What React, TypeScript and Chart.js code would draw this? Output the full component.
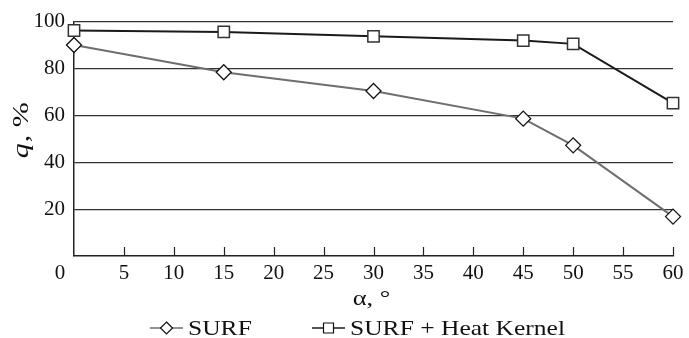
import React, { useEffect, useRef } from "react";
import { Chart, registerables } from "chart.js";

Chart.register(...registerables);

// ---- data ----
const angles = [0, 15, 30, 45, 50, 60];
const surfValues = [90.0, 78.4, 70.4, 58.6, 47.2, 16.8];
const surfHeatValues = [96.2, 95.6, 93.7, 91.9, 90.5, 65.2];
const seriesNames = ["SURF", "SURF + Heat Kernel"];
const xTickValues = [5, 10, 15, 20, 25, 30, 35, 40, 45, 50, 55, 60];
const yTickValues = [20, 40, 60, 80, 100];
const xOriginLabel = "0";
const xTitle = "α, °";
const yTitleVar = "q";
const yTitleRest = ", %";

const FONT = "'Liberation Serif', 'Times New Roman', serif";
const TEXT = "#111";
const surfColor = "#6e6e6e";
const heatColor = "#1a1a1a";

function stretchText(
  ctx: CanvasRenderingContext2D,
  text: string,
  x: number,
  y: number,
  sx: number,
  align: "left" | "center"
) {
  const w = ctx.measureText(text).width * sx;
  const left = align === "center" ? x - w / 2 : x;
  ctx.save();
  ctx.translate(left, y);
  ctx.scale(sx, 1);
  ctx.textAlign = "left";
  ctx.fillText(text, 0, 0);
  ctx.restore();
  return w;
}

const decorPlugin = {
  id: "decor",
  afterDraw(chart: any) {
    const ctx: CanvasRenderingContext2D = chart.ctx;
    const xs = chart.scales.x;
    const ca = chart.chartArea;
    ctx.save();

    // inward tick marks on x axis
    ctx.strokeStyle = "#222";
    ctx.lineWidth = 1.2;
    for (const t of xTickValues) {
      const px = Math.round(xs.getPixelForValue(t)) + 0.5;
      ctx.beginPath();
      ctx.moveTo(px, ca.bottom);
      ctx.lineTo(px, ca.bottom - 9);
      ctx.stroke();
    }

    // origin label
    ctx.fillStyle = TEXT;
    ctx.font = `21px ${FONT}`;
    ctx.textAlign = "center";
    ctx.textBaseline = "middle";
    ctx.fillText(xOriginLabel, ca.left - 14, xs.top + 5 + (21 * 1.2) / 2);

    // x axis title
    ctx.font = `22px ${FONT}`;
    ctx.textBaseline = "alphabetic";
    stretchText(ctx, xTitle, (ca.left + ca.right) / 2 - 2, ca.bottom + 49, 1.2, "center");

    // y axis title (rotated, italic variable)
    ctx.save();
    ctx.translate(28, (ca.top + ca.bottom) / 2 - 8);
    ctx.rotate(-Math.PI / 2);
    ctx.textBaseline = "alphabetic";
    const sy = 1.25;
    ctx.font = `italic 24px ${FONT}`;
    const w1 = ctx.measureText(yTitleVar).width * sy;
    ctx.font = `24px ${FONT}`;
    const w2 = ctx.measureText(yTitleRest).width * sy;
    const start = -(w1 + w2) / 2;
    ctx.font = `italic 24px ${FONT}`;
    stretchText(ctx, yTitleVar, start, 0, sy, "left");
    ctx.font = `24px ${FONT}`;
    stretchText(ctx, yTitleRest, start + w1 + 1, 0, sy, "left");
    ctx.restore();

    // legend
    const cx = (ca.left + ca.right) / 2;
    const ly = chart.height - 10;
    const items = [
      { text: seriesNames[0], color: surfColor, marker: "diamond", start: cx - 223.5 },
      { text: seriesNames[1], color: heatColor, marker: "square", start: cx - 61.5 },
    ];
    for (const it of items) {
      ctx.strokeStyle = it.color;
      ctx.lineWidth = 1.3;
      ctx.beginPath();
      ctx.moveTo(it.start, ly);
      ctx.lineTo(it.start + 33, ly);
      ctx.stroke();
      const mx = it.start + 16.5;
      ctx.fillStyle = "#fff";
      ctx.lineWidth = 1.2;
      ctx.strokeStyle = "#111";
      ctx.beginPath();
      if (it.marker === "diamond") {
        ctx.moveTo(mx, ly - 6);
        ctx.lineTo(mx + 6, ly);
        ctx.lineTo(mx, ly + 6);
        ctx.lineTo(mx - 6, ly);
        ctx.closePath();
      } else {
        ctx.rect(mx - 5, ly - 5, 10, 10);
      }
      ctx.fill();
      ctx.stroke();
      ctx.fillStyle = TEXT;
      ctx.font = `22px ${FONT}`;
      ctx.textBaseline = "alphabetic";
      stretchText(ctx, it.text, it.start + 38, chart.height - 3, 1.16, "left");
    }
    ctx.restore();
  },
};

export default function App() {
  const canvasRef = useRef<HTMLCanvasElement | null>(null);

  useEffect(() => {
    const canvas = canvasRef.current;
    if (!canvas) return;
    const chart = new Chart(canvas, {
      type: "line",
      data: {
        datasets: [
          {
            label: seriesNames[1],
            data: angles.map((a, i) => ({ x: a, y: surfHeatValues[i] })),
            borderColor: heatColor,
            borderWidth: 2,
            pointStyle: "rect",
            pointRadius: 8,
            pointBackgroundColor: "#fff",
            pointBorderColor: "#333",
            pointBorderWidth: 1.5,
            tension: 0,
            clip: false,
          },
          {
            label: seriesNames[0],
            data: angles.map((a, i) => ({ x: a, y: surfValues[i] })),
            borderColor: surfColor,
            borderWidth: 2,
            pointStyle: "rectRot",
            pointRadius: 7.5,
            pointBackgroundColor: "#fff",
            pointBorderColor: "#111",
            pointBorderWidth: 1.3,
            tension: 0,
            clip: false,
          },
        ],
      },
      options: {
        animation: false,
        responsive: true,
        maintainAspectRatio: false,
        layout: { padding: { left: 0, right: 16, top: 21, bottom: 27 } },
        plugins: {
          legend: { display: false },
          tooltip: { enabled: false },
        },
        scales: {
          x: {
            type: "linear",
            min: 0,
            max: 60,
            afterBuildTicks: (s: any) => {
              s.ticks = xTickValues.map((v) => ({ value: v }));
            },
            afterFit: (s: any) => {
              s.height = 55;
            },
            ticks: {
              autoSkip: false,
              maxRotation: 0,
              padding: 5,
              color: TEXT,
              font: { family: FONT, size: 21 },
            },
            grid: { display: false, drawTicks: false },
            border: { display: true, color: "#222", width: 1.5 },
          },
          y: {
            type: "linear",
            min: 0,
            max: 100,
            afterBuildTicks: (s: any) => {
              s.ticks = yTickValues.map((v) => ({ value: v }));
            },
            afterFit: (s: any) => {
              s.width = 74;
            },
            ticks: {
              padding: 9,
              color: TEXT,
              font: { family: FONT, size: 21 },
            },
            grid: { display: true, drawTicks: false, color: "#333", lineWidth: 1.2 },
            border: { display: true, color: "#222", width: 1.5 },
          },
        },
      },
      plugins: [decorPlugin],
    });
    return () => chart.destroy();
  }, []);

  return (
    <div style={{ position: "absolute", left: 0, top: 0, width: 689, height: 338 }}>
      <canvas ref={canvasRef} />
    </div>
  );
}
